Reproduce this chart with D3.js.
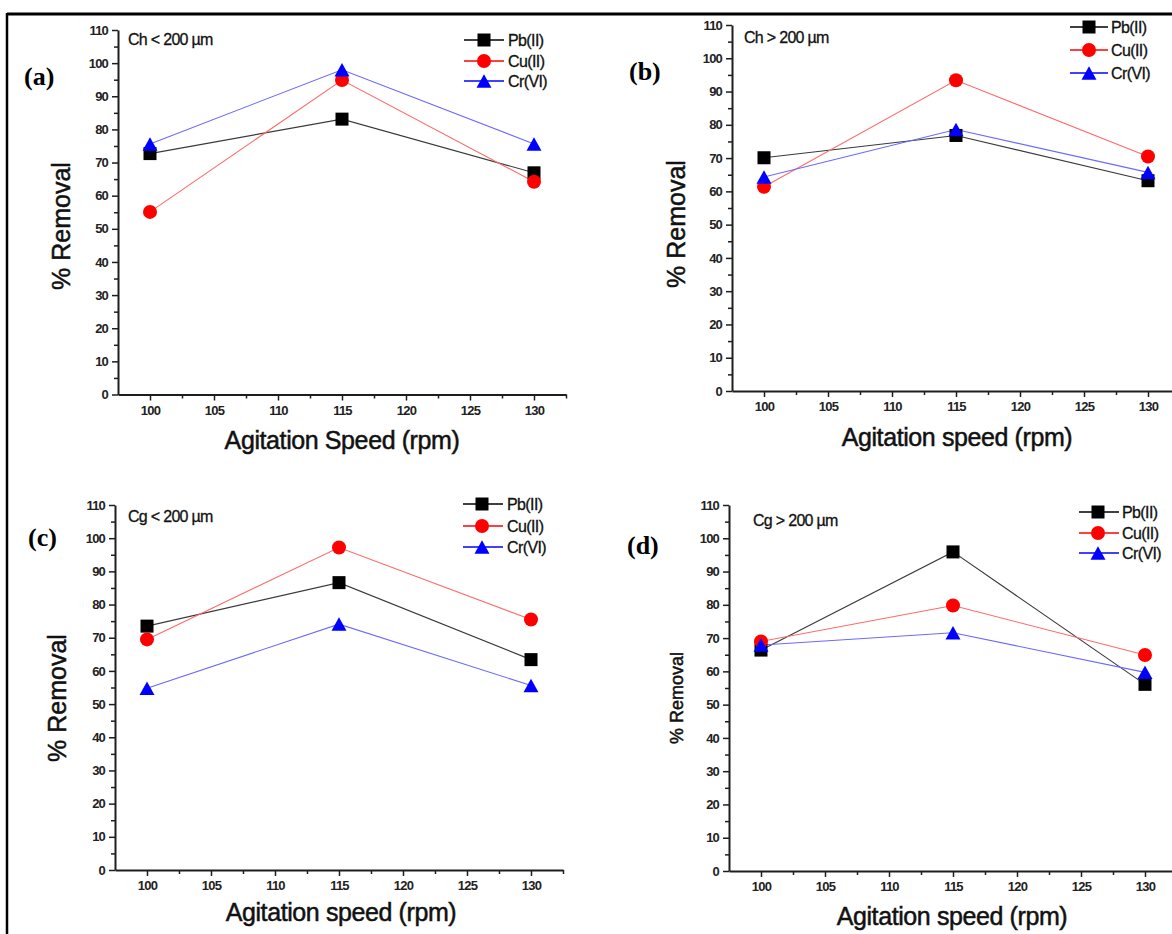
<!DOCTYPE html>
<html>
<head>
<meta charset="utf-8">
<script src="https://cdn.jsdelivr.net/npm/d3@7"></script>
<style>
  body { margin: 0; background: #fff; }
  svg { display: block; font-family: "Liberation Sans", Arial, sans-serif; }
</style>
</head>
<body>
<svg id="fig" width="1172" height="934"></svg>
<script>
// Agitation speeds (rpm) tested
const speeds = [100, 115, 130];
const seriesNames = ["Pb(II)", "Cu(II)", "Cr(VI)"];
const panelLabels = ["(a)", "(b)", "(c)", "(d)"];
const panelNotes = ["Ch < 200 µm", "Ch > 200 µm", "Cg < 200 µm", "Cg > 200 µm"];
const xTitles = ["Agitation Speed (rpm)", "Agitation speed (rpm)", "Agitation speed (rpm)", "Agitation speed (rpm)"];
const yTitle = "% Removal";

// % removal per panel (a..d), one row per panel, values at 100/115/130 rpm
const pbRemoval = [[72.7, 83.1, 66.9], [70.1, 76.8, 63.2], [73.5, 86.6, 63.4], [66.4, 95.9, 56.1]];
const cuRemoval = [[55.1, 94.9, 64.2], [61.4, 93.4, 70.5], [69.5, 97.2, 75.5], [69.0, 79.8, 64.9]];
const crRemoval = [[75.6, 98.0, 75.6], [64.3, 78.6, 65.7], [54.8, 74.1, 55.6], [67.9, 71.6, 59.7]];

const yTickValues = [0, 10, 20, 30, 40, 50, 60, 70, 80, 90, 100, 110];
const yMinorValues = [5, 15, 25, 35, 45, 55, 65, 75, 85, 95, 105];
const xTickValues = [100, 105, 110, 115, 120, 125, 130];
const xMinorValues = [102.5, 107.5, 112.5, 117.5, 122.5, 127.5, 132.5];

// Series styling
const styles = [
  { fill: "#000000", line: "#3a3a3a", shape: "square" },
  { fill: "#ff0000", line: "#ff6a6a", shape: "circle" },
  { fill: "#0000ff", line: "#6a6aff", shape: "triangle" }
];

// Panel layout
const layout = [
  { ax: 118, top: 30,  bottom: 394.5, label: [24, 85],   note: [128, 45],  xt: [342, 449], yt: [61, 226, 25],
    leg: { x0: 464, x1: 504, m: 484, tx: 508, rows: [40, 61, 81] } },
  { ax: 732, top: 25,  bottom: 391,   label: [629, 80],  note: [744, 43],  xt: [957, 446], yt: [676, 224, 25],
    leg: { x0: 1070, x1: 1108, m: 1089, tx: 1111, rows: [27, 50, 73] } },
  { ax: 115, top: 505, bottom: 870,   label: [28, 546],  note: [128, 522], xt: [341, 921], yt: [57, 698, 25],
    leg: { x0: 463, x1: 503, m: 482, tx: 507, rows: [504, 526, 547] } },
  { ax: 729, top: 505, bottom: 871,   label: [627, 554], note: [753, 526], xt: [952, 925], yt: [677, 698, 18],
    leg: { x0: 1079, x1: 1119, m: 1098, tx: 1122, rows: [512, 533, 553] } }
];

const svg = d3.select("#fig");
const axisColor = "#1e1e1e";
const sans = "'Liberation Sans', Arial, sans-serif";
const serif = "'Liberation Serif', 'Times New Roman', serif";

// figure frame (top and left rules)
svg.append("line").attr("x1", 7).attr("x2", 1172).attr("y1", 14).attr("y2", 14)
  .attr("stroke", "#000").attr("stroke-width", 3);
svg.append("line").attr("x1", 7).attr("x2", 7).attr("y1", 13).attr("y2", 934)
  .attr("stroke", "#000").attr("stroke-width", 2.5);

function drawMarker(g, shape, cx, cy, fill) {
  if (shape === "square") {
    g.append("rect").attr("x", cx - 6.5).attr("y", cy - 6.5).attr("width", 13).attr("height", 13).attr("fill", fill);
  } else if (shape === "circle") {
    g.append("circle").attr("cx", cx).attr("cy", cy).attr("r", 7).attr("fill", fill);
  } else {
    const w = 15, h = 13.5;
    g.append("path")
      .attr("d", `M${cx},${cy - h / 2}L${cx + w / 2},${cy + h / 2}L${cx - w / 2},${cy + h / 2}Z`)
      .attr("fill", fill);
  }
}

function styleTickText(sel) {
  sel.style("font-family", sans).style("font-size", "13px").style("font-weight", "bold")
    .style("letter-spacing", "-0.8px").attr("fill", "#222");
}

layout.forEach((L, i) => {
  const g = svg.append("g");
  const x = d3.scaleLinear().domain([97.5, 132.5]).range([L.ax, L.ax + 448]);
  const y = d3.scaleLinear().domain([0, 110]).range([L.bottom, L.top]);

  // minor ticks
  g.append("g").attr("transform", `translate(${L.ax},0)`)
    .call(d3.axisLeft(y).tickValues(yMinorValues).tickSize(4).tickFormat(""))
    .call(a => a.select(".domain").remove())
    .call(a => a.selectAll("line").attr("stroke", axisColor).attr("stroke-width", 1.5));
  g.append("g").attr("transform", `translate(0,${L.bottom})`)
    .call(d3.axisBottom(x).tickValues(xMinorValues).tickSize(4).tickFormat(""))
    .call(a => a.select(".domain").remove())
    .call(a => a.selectAll("line").attr("stroke", axisColor).attr("stroke-width", 1.5));

  // y axis
  const ya = g.append("g").attr("transform", `translate(${L.ax},0)`)
    .call(d3.axisLeft(y).tickValues(yTickValues).tickSize(6).tickSizeOuter(0).tickPadding(4));
  ya.select(".domain").attr("stroke", axisColor).attr("stroke-width", 2);
  ya.selectAll("line").attr("stroke", axisColor).attr("stroke-width", 1.5);
  styleTickText(ya.selectAll("text"));

  // x axis
  const xa = g.append("g").attr("transform", `translate(0,${L.bottom})`)
    .call(d3.axisBottom(x).tickValues(xTickValues).tickSize(6).tickSizeOuter(0).tickPadding(5));
  xa.select(".domain").attr("stroke", axisColor).attr("stroke-width", 2);
  xa.selectAll("line").attr("stroke", axisColor).attr("stroke-width", 1.5);
  styleTickText(xa.selectAll("text"));

  // axis titles
  g.append("text").attr("x", L.xt[0]).attr("y", L.xt[1]).attr("text-anchor", "middle")
    .style("font-family", sans).style("font-size", "25px").style("letter-spacing", "-0.4px")
    .attr("fill", "#111").attr("stroke", "#111").attr("stroke-width", 0.5).text(xTitles[i]);
  g.append("text").attr("transform", `translate(${L.yt[0]},${L.yt[1]}) rotate(-90)`)
    .attr("text-anchor", "middle").attr("dominant-baseline", "central")
    .style("font-family", sans).style("font-size", L.yt[2] + "px")
    .attr("fill", "#111").attr("stroke", "#111").attr("stroke-width", 0.5).text(yTitle);

  // panel label and size note
  g.append("text").attr("x", L.label[0]).attr("y", L.label[1])
    .style("font-family", serif).style("font-weight", "bold").style("font-size", "26px")
    .attr("fill", "#000").text(panelLabels[i]);
  g.append("text").attr("x", L.note[0]).attr("y", L.note[1])
    .style("font-family", sans).style("font-size", "16px").style("letter-spacing", "-0.7px")
    .attr("fill", "#111").attr("stroke", "#111").attr("stroke-width", 0.3).text(panelNotes[i]);

  // series
  const allSeries = [pbRemoval[i], cuRemoval[i], crRemoval[i]];
  const line = d3.line().x((d, k) => x(speeds[k])).y(d => y(d));
  allSeries.forEach((vals, s) => {
    g.append("path").attr("d", line(vals)).attr("fill", "none")
      .attr("stroke", styles[s].line).attr("stroke-width", 1.1);
  });
  allSeries.forEach((vals, s) => {
    vals.forEach((v, k) => drawMarker(g, styles[s].shape, x(speeds[k]), y(v), styles[s].fill));
  });

  // legend
  seriesNames.forEach((name, s) => {
    const ry = L.leg.rows[s];
    g.append("line").attr("x1", L.leg.x0).attr("x2", L.leg.x1).attr("y1", ry).attr("y2", ry)
      .attr("stroke", s === 0 ? "#000" : styles[s].fill).attr("stroke-width", 1.6);
    drawMarker(g, styles[s].shape, L.leg.m, ry, styles[s].fill);
    g.append("text").attr("x", L.leg.tx).attr("y", ry).attr("dominant-baseline", "central")
      .style("font-family", sans).style("font-size", "16px").style("letter-spacing", "-0.6px")
      .attr("fill", "#111").attr("stroke", "#111").attr("stroke-width", 0.3).text(name);
  });
});
</script>
</body>
</html>
